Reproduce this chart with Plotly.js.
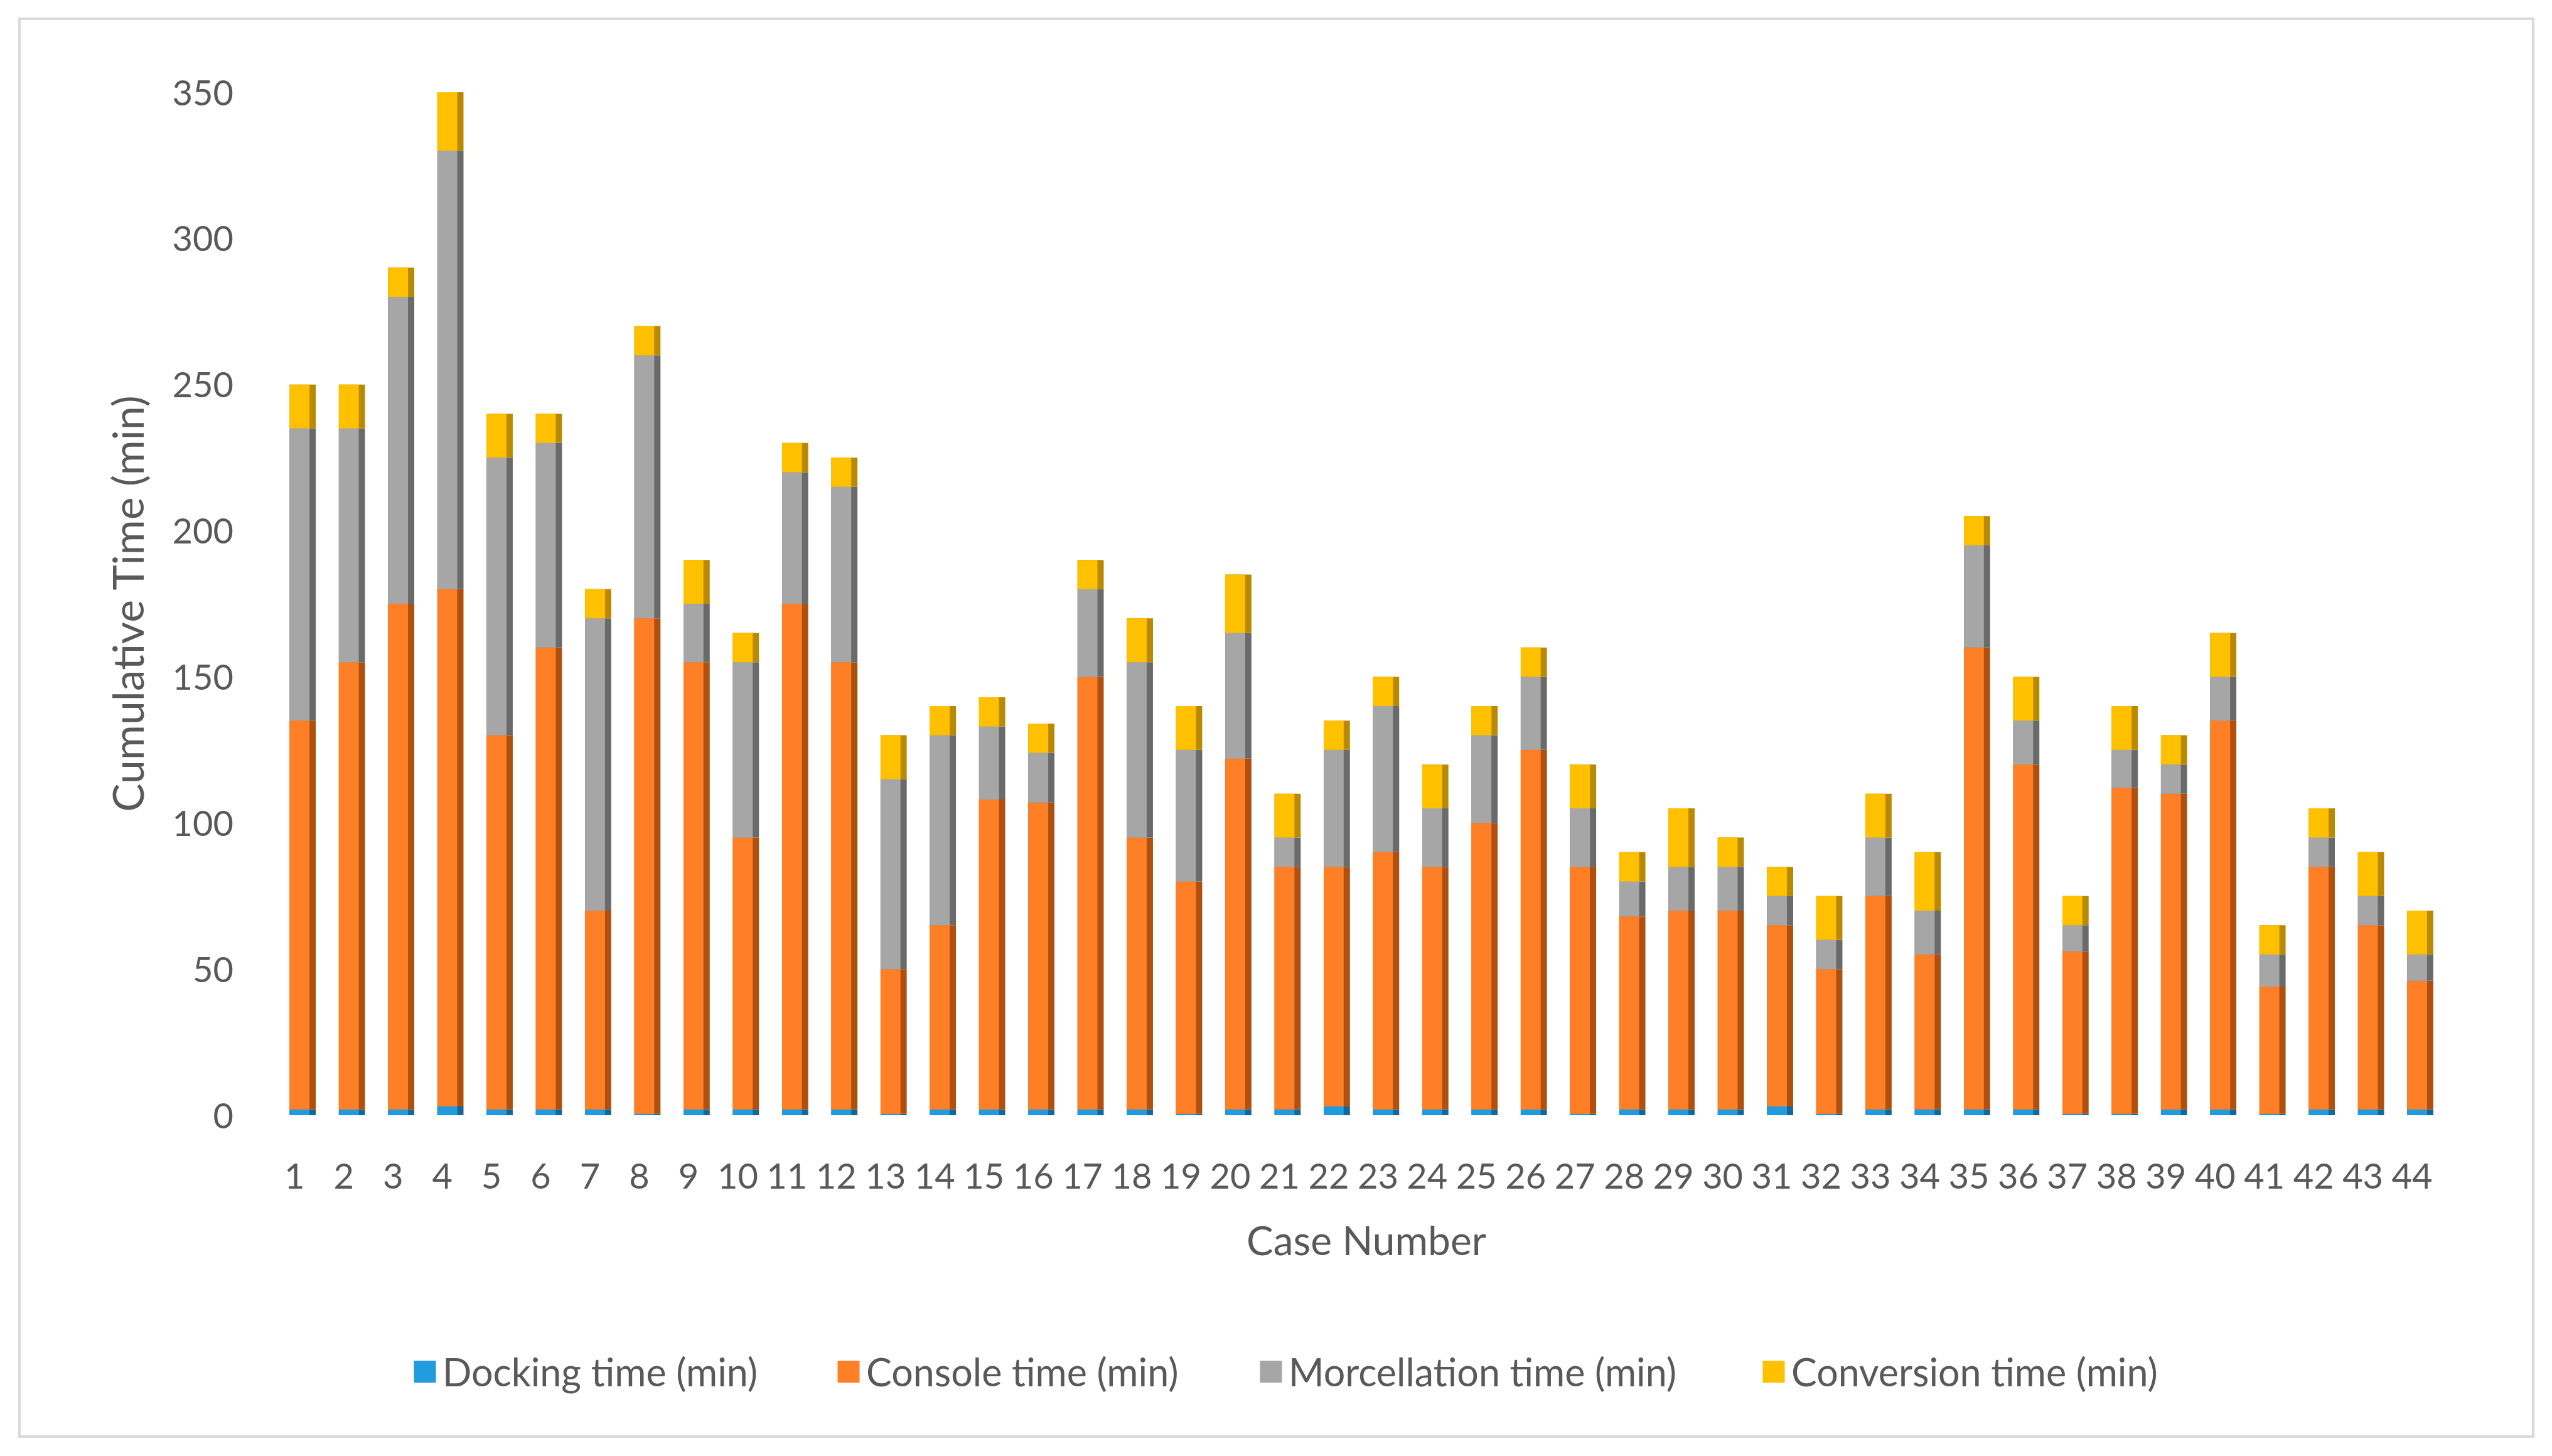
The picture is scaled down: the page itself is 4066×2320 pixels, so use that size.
<!DOCTYPE html>
<html>
<head>
<meta charset="utf-8">
<script src="https://cdn.plot.ly/plotly-3.0.1.min.js"></script>
<style>
html,body{margin:0;padding:0;background:#fff;}
#chart{width:4066px;height:2320px;}
#frame{position:absolute;left:29px;top:28px;width:4009px;height:2263px;border:4px solid #D9D9D9;box-sizing:border-box;pointer-events:none;}
</style>
</head>
<body>
<div id="chart"></div>
<div id="frame"></div>
<script>
const cases = [1,2,3,4,5,6,7,8,9,10,11,12,13,14,15,16,17,18,19,20,21,22,23,24,25,26,27,28,29,30,31,32,33,34,35,36,37,38,39,40,41,42,43,44];
const tickLabels = cases.map(String);
const yTicks = [0,50,100,150,200,250,300,350];

const docking = [2,2,2,3,2,2,2,0.5,2,2,2,2,0.5,2,2,2,2,2,0.5,2,2,3,2,2,2,2,0.5,2,2,2,3,0.5,2,2,2,2,0.5,0.5,2,2,0.5,2,2,2];
const consoleTime = [133,153,173,177,128,158,68,169.5,153,93,173,153,49.5,63,106,105,148,93,79.5,120,83,82,88,83,98,123,84.5,66,68,68,62,49.5,73,53,158,118,55.5,111.5,108,133,43.5,83,63,44];
const morcellation = [100,80,105,150,95,70,100,90,20,60,45,60,65,65,25,17,30,60,45,43,10,40,50,20,30,25,20,12,15,15,10,10,20,15,35,15,9,13,10,15,11,10,10,9];
const conversion = [15,15,10,20,15,10,10,10,15,10,10,10,15,10,10,10,10,15,15,20,15,10,10,15,10,10,15,10,20,10,10,15,15,20,10,15,10,15,10,15,10,10,15,15];

const seriesNames = ['Docking time (min)','Console time (min)','Morcellation time (min)','Conversion time (min)'];
const seriesValues = [docking, consoleTime, morcellation, conversion];
const frontColors = ['#1F9BDE','#FF7F27','#A6A6A6','#FFC000'];
const sideColors = ['#13689A','#B0500F','#6A6A6A','#B98A00'];

let cum = cases.map(() => 0);
const sideTraces = [], frontTraces = [];
seriesValues.forEach((vals, i) => {
  const base = cum.slice();
  sideTraces.push({
    type:'bar', x:cases, y:vals, base:base, width:0.532, offset:-0.266,
    marker:{color:sideColors[i], line:{width:0}}, showlegend:false, hoverinfo:'skip'
  });
  frontTraces.push({
    type:'bar', x:cases, y:vals, base:base, width:0.405, offset:-0.266,
    marker:{color:frontColors[i], line:{width:0}}, name:seriesNames[i],
    legend: i === 0 ? 'legend' : 'legend' + (i + 1)
  });
  cum = cum.map((c, j) => c + vals[j]);
});

const legendX = [653, 1328, 2001, 2802];
function leg(px){
  return {xref:'container', yref:'container', x:(px-4)/4066, y:1-2186/2320,
    xanchor:'left', yanchor:'middle', orientation:'h', bgcolor:'rgba(0,0,0,0)',
    borderwidth:0, itemwidth:46, font:{family:'Lato, sans-serif', size:61, color:'#595959'}};
}

const layout = {
  width:4066, height:2320,
  paper_bgcolor:'#ffffff', plot_bgcolor:'rgba(0,0,0,0)',
  margin:{l:443, r:155, t:147, b:543, autoexpand:false},
  barmode:'overlay',
  font:{family:'Lato, sans-serif', color:'#595959', size:56},
  xaxis:{type:'linear', range:[0.5,44.7], tickmode:'array', tickvals:cases, ticktext:tickLabels,
    showgrid:false, zeroline:false, showline:false, ticks:'', ticklabelshift:-13, ticklabelstandoff:60,
    tickfont:{family:'Lato, sans-serif', size:56, color:'#595959'},
    title:{text:'Case Number', font:{family:'Lato, sans-serif', size:64, color:'#595959'}, standoff:50},
    automargin:false, fixedrange:true},
  yaxis:{range:[0,350], tickmode:'array', tickvals:yTicks, showgrid:false, zeroline:false, showline:false,
    ticks:'', ticklabelshift:1, ticklabelstandoff:70,
    tickfont:{family:'Lato, sans-serif', size:56, color:'#595959'},
    title:{text:'Cumulative Time (min)', font:{family:'Lato, sans-serif', size:68, color:'#595959'}, standoff:22},
    automargin:false, fixedrange:true},
  yaxis2:{overlaying:'y', anchor:'x', range:[-2.8,347.2], tickmode:'array', tickvals:yTicks,
    showgrid:true, gridcolor:'#D9D9D9', gridwidth:4, showticklabels:false, zeroline:false, showline:false, ticks:'', fixedrange:true},
  legend:leg(legendX[0]), legend2:leg(legendX[1]), legend3:leg(legendX[2]), legend4:leg(legendX[3])
};

Plotly.newPlot('chart', sideTraces.concat(frontTraces), layout, {displayModeBar:false, staticPlot:true}).then(gd => {
  gd.querySelectorAll('.legendpoints path').forEach(p => {
    const t = p.getAttribute('transform') || '';
    p.setAttribute('transform', t + ' scale(2.92)');
  });
});
</script>
</body>
</html>
